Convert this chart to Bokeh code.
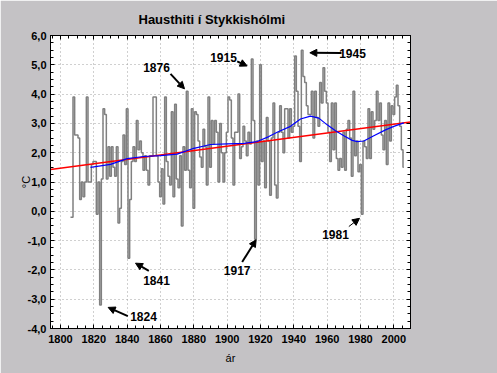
from bokeh.plotting import figure
from bokeh.models import (ColumnDataSource, Range1d, LinearAxis, SingleIntervalTicker,
                          Label, Arrow, NormalHead, Title, CustomJSTickFormatter)
from bokeh.embed import file_html
from bokeh.resources import INLINE

# ---------------- data ----------------
first_year = 1806
temps = [
    -0.2, -0.2, 3.9, 2.6,                                   # 1806-1809
    2.6, 2.5, 0.4, 1.0, 0.5, 1.0, 3.9, 1.0, 1.0, 1.6,       # 1810s
    1.7, 1.7, -0.1, 1.0, -3.2, 1.1, 3.5, 3.3, 1.1, 2.2,     # 1820s
    1.2, 2.2, 1.5, 1.2, 2.2, -0.4, 0.1, 1.7, 2.6, 1.6,      # 1830s
    3.5, -1.6, 0.4, 1.7, 2.2, 1.7, 3.1, 2.1, 2.4, 2.0,      # 1840s
    1.4, 1.9, 1.4, 0.9, 1.9, 1.9, 3.9, 3.9, 1.9, 1.0,       # 1850s
    0.5, 1.45, 0.25, 3.9, 1.7, 1.2, 0.9, 3.4, 0.5, 3.65,    # 1860s
    1.1, 0.8, 1.9, -0.5, 2.2, 1.4, 4.1, 1.4, 0.8, 3.5,      # 1870s
    0.1, 3.4, 3.3, 2.4, 1.85, 1.5, 2.8, 2.2, 0.9, 3.9,      # 1880s
    1.5, 3.1, 2.3, 3.1, 2.7, 1.0, 3.0, 2.0, 1.0, 2.0,       # 1890s
    2.7, 3.9, 3.8, 2.5, 0.9, 2.7, 2.7, 4.0, 1.8, 2.2,       # 1900s
    2.9, 2.4, 1.9, 2.7, 2.3, 5.2, 3.1, -0.95, 2.4, 0.9,     # 1910s
    5.0, 1.7, 2.4, 0.8, 3.2, 2.4, 0.55, 2.5, 3.7, 0.9,      # 1920s
    0.45, 2.7, 3.6, 2.7, 2.0, 3.5, 3.5, 2.5, 3.5, 2.7,      # 1930s
    2.9, 5.3, 4.1, 2.9, 1.7, 5.5, 4.6, 4.4, 3.6, 3.3,       # 1940s
    3.3, 4.1, 2.5, 4.1, 3.2, 2.9, 4.4, 3.7, 4.9, 4.1,       # 1950s
    3.7, 2.7, 1.7, 3.7, 2.1, 3.7, 1.8, 1.4, 1.8, 1.5,       # 1960s
    2.7, 1.4, 2.8, 3.1, 2.5, 1.2, 4.1, 1.9, 2.4, 1.35,      # 1970s
    1.6, -0.1, 2.4, 2.2, 1.8, 3.5, 1.8, 3.4, 2.8, 3.1,      # 1980s
    4.1, 3.1, 3.7, 2.6, 2.1, 3.1, 1.6, 3.7, 2.4, 3.6,       # 1990s
    3.3, 3.9, 4.3, 3.6, 2.9, 2.1, 1.5,                      # 2000-2006
]
years = list(range(first_year, first_year + len(temps)))

smooth_years = [1818, 1830, 1840, 1850, 1860, 1870, 1880, 1890, 1900, 1910, 1918,
                1925, 1930, 1938, 1944, 1950, 1955, 1960, 1965, 1970, 1975, 1978,
                1982, 1988, 1995, 2000, 2006]
smooth_vals = [1.5, 1.6, 1.8, 1.87, 1.9, 1.95, 2.15, 2.28, 2.3, 2.32, 2.38,
               2.55, 2.7, 2.9, 3.15, 3.25, 3.18, 2.95, 2.75, 2.58, 2.42, 2.38,
               2.4, 2.58, 2.78, 2.9, 3.02]

trend_years = [1794, 2010]
trend_vals = [1.43, 3.05]

y_tick_values = [-4, -3, -2, -1, 0, 1, 2, 3, 4, 5, 6]
y_tick_labels = ["-4,0", "-3,0", "-2,0", "-1,0", "0,0", "1,0", "2,0", "3,0", "4,0", "5,0", "6,0"]

annot_labels = ["1876", "1915", "1945", "1841", "1824", "1917", "1981"]

# ---------------- figure ----------------
BG = "#c4c2c5"
FONT = "Liberation Sans"

p = figure(width=497, height=373, output_backend="svg", toolbar_location=None,
           x_range=Range1d(1794, 2010), y_range=Range1d(-4, 6),
           min_border_left=50, min_border_right=87, min_border_top=33, min_border_bottom=45,
           background_fill_color="white", border_fill_color=BG,
           outline_line_color="black", outline_line_width=1)

p.title = Title(text="Hausthiti í Stykkishólmi", align="left", offset=88,
                text_font=FONT, text_font_size="13px", text_font_style="bold",
                text_color="black", standoff=18)

xt = SingleIntervalTicker(interval=20, num_minor_ticks=4)
yt = SingleIntervalTicker(interval=1, num_minor_ticks=4)

for ax in p.xaxis:
    ax.ticker = xt
for ax in p.yaxis:
    ax.ticker = yt
    ax.major_label_overrides = {v: s for v, s in zip(y_tick_values, y_tick_labels)}

for ax in list(p.xaxis) + list(p.yaxis):
    ax.major_tick_in = 4
    ax.major_tick_out = 0
    ax.minor_tick_in = 3
    ax.minor_tick_out = 0
    ax.axis_line_color = "black"
    ax.major_tick_line_color = "black"
    ax.minor_tick_line_color = "black"
    ax.major_label_text_font = FONT
    ax.major_label_text_font_size = "11px"
    ax.major_label_text_font_style = "bold"
    ax.major_label_text_color = "black"
    ax.axis_label_text_font = FONT
    ax.axis_label_text_font_size = "11px"
    ax.axis_label_text_font_style = "normal"
    ax.axis_label_text_color = "black"

p.xaxis.axis_label = "ár"
p.xaxis.major_label_standoff = 6
p.xaxis.axis_label_standoff = 6
p.yaxis.axis_label = "°C"
p.yaxis.major_label_standoff = 4
p.yaxis.axis_label_standoff = -7

# top and right axes: ticks only
blank = CustomJSTickFormatter(code="return ''")
for loc, tk in (("above", xt), ("right", yt)):
    ax = LinearAxis(ticker=tk, formatter=blank, major_tick_in=4, major_tick_out=0,
                    minor_tick_in=3, minor_tick_out=0, major_label_standoff=0,
                    axis_line_color="black", major_tick_line_color="black",
                    minor_tick_line_color="black")
    p.add_layout(ax, loc)

p.grid.grid_line_color = "#a0a0a0"
p.grid.grid_line_dash = "1 3"
p.xgrid.ticker = xt
p.ygrid.ticker = yt

# ---------------- series ----------------
src = ColumnDataSource(dict(year=years, temp=temps))
p.step(x="year", y="temp", source=src, mode="center", line_color="#808080", line_width=1.5)
p.line(trend_years, trend_vals, line_color="#ff0000", line_width=1.5)
p.line(smooth_years, smooth_vals, line_color="#0000ff", line_width=1.2)

# ---------------- annotations ----------------
label_pos = [(1857.6, 4.92), (1897.8, 5.26), (1975.2, 5.40), (1857.6, -2.36),
             (1849.8, -3.58), (1906.0, -2.03), (1965.0, -0.80)]
arrow_pos = [((1866.0, 4.69), (1874.4, 4.18)),
             ((1906.0, 5.12), (1912.0, 4.96)),
             ((1968.6, 5.40), (1949.6, 5.41)),
             ((1853.0, -2.03), (1845.0, -1.77)),
             ((1840.4, -3.58), (1828.6, -3.28)),
             ((1909.0, -1.73), (1917.4, -0.97)),
             ((1973.0, -0.52), (1979.4, -0.24))]

for txt, (lx, ly) in zip(annot_labels, label_pos):
    p.add_layout(Label(x=lx, y=ly, text=txt, text_font=FONT, text_font_size="12px",
                       text_font_style="bold", text_align="center", text_baseline="middle",
                       text_color="black"))
for (s, e), txt in zip(arrow_pos, annot_labels):
    lw = 1 if txt == "1981" else 2
    p.add_layout(Arrow(x_start=s[0], y_start=s[1], x_end=e[0], y_end=e[1],
                       line_color="black", line_width=lw,
                       end=NormalHead(size=7, fill_color="black", line_color="black")))

open("out.html", "w").write(file_html(p, INLINE))
